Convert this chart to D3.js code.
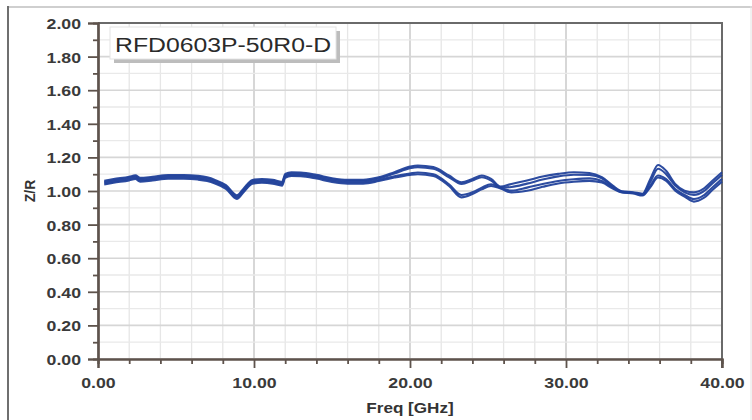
<!DOCTYPE html>
<html><head><meta charset="utf-8">
<script src="https://cdn.jsdelivr.net/npm/d3@7"></script>
<style>
html,body{margin:0;padding:0;background:#fff;}
svg{display:block;}
text{font-family:"Liberation Sans",Arial,sans-serif;}
</style></head>
<body>
<svg id="chart" width="752" height="420"></svg>
<script>
const chartTitle = "RFD0603P-50R0-D";
const xLabel = "Freq [GHz]";
const yLabel = "Z/R";
const xTickValues = [0, 10, 20, 30, 40];
const yTickValues = [0, 0.2, 0.4, 0.6, 0.8, 1.0, 1.2, 1.4, 1.6, 1.8, 2.0];

const freq = [0.4, 1, 2, 2.4, 2.7, 3.5, 4.5, 5.5, 6.4, 7, 7.5, 8.2, 8.9, 9.3, 9.9, 10.5, 11.2, 11.8, 12.0, 12.4,
  13, 14, 15, 16, 17, 18, 19, 20, 20.5, 21.5, 22.5, 23.3, 24, 24.6, 25.2, 25.8, 26.5, 27.5, 28.5, 29.5,
  30.5, 31.5, 32.3, 33, 33.6, 34.3, 34.9, 35.4, 35.9, 36.4, 37, 37.6, 38.2, 38.8, 39.4, 40];

const trace1 = [1.061, 1.071, 1.085, 1.093, 1.078, 1.085, 1.095, 1.095, 1.090, 1.081, 1.066, 1.035, 0.975, 1.011, 1.066, 1.071, 1.066, 1.054, 1.101, 1.111,
  1.110, 1.096, 1.076, 1.066, 1.066, 1.081, 1.112, 1.145, 1.152, 1.142, 1.092, 1.052, 1.072, 1.092, 1.072, 1.026, 1.042, 1.062, 1.086, 1.102,
  1.112, 1.107, 1.082, 1.032, 0.998, 0.993, 0.984, 1.070, 1.155, 1.122, 1.042, 1.002, 0.992, 1.012, 1.062, 1.112];
const trace2 = [1.054, 1.064, 1.078, 1.086, 1.071, 1.078, 1.088, 1.088, 1.083, 1.074, 1.059, 1.028, 0.968, 1.004, 1.059, 1.064, 1.059, 1.047, 1.094, 1.104,
  1.103, 1.089, 1.069, 1.059, 1.059, 1.074, 1.104, 1.136, 1.142, 1.132, 1.082, 1.042, 1.062, 1.082, 1.062, 1.021, 1.024, 1.044, 1.068, 1.087,
  1.097, 1.096, 1.076, 1.026, 0.995, 0.990, 0.980, 1.052, 1.132, 1.102, 1.032, 0.992, 0.977, 0.997, 1.047, 1.096];
const trace3 = [1.046, 1.056, 1.070, 1.078, 1.063, 1.070, 1.080, 1.080, 1.075, 1.066, 1.051, 1.020, 0.960, 0.996, 1.051, 1.056, 1.051, 1.039, 1.086, 1.096,
  1.095, 1.081, 1.061, 1.051, 1.051, 1.066, 1.088, 1.104, 1.110, 1.100, 1.040, 0.976, 0.992, 1.020, 1.040, 1.018, 1.002, 1.020, 1.042, 1.060,
  1.070, 1.075, 1.060, 1.020, 0.993, 0.988, 0.976, 1.032, 1.092, 1.072, 1.012, 0.977, 0.952, 0.972, 1.022, 1.072];
const trace4 = [1.039, 1.049, 1.063, 1.071, 1.056, 1.063, 1.073, 1.073, 1.068, 1.059, 1.044, 1.013, 0.953, 0.989, 1.044, 1.049, 1.044, 1.032, 1.079, 1.089,
  1.088, 1.074, 1.054, 1.044, 1.044, 1.059, 1.080, 1.096, 1.100, 1.090, 1.030, 0.962, 0.982, 1.010, 1.030, 1.015, 0.992, 1.002, 1.025, 1.045,
  1.055, 1.060, 1.050, 1.015, 0.991, 0.986, 0.973, 1.022, 1.080, 1.062, 1.002, 0.967, 0.937, 0.957, 1.007, 1.056];
const traces = [trace1, trace2, trace3, trace4];

const svg = d3.select("#chart");
const L = 98, R = 722, T = 23, B = 359;
const SX = 1.18; // horizontal stretch of text in the original picture

const x = d3.scaleLinear().domain([0, 40]).range([L, R]);
const y = d3.scaleLinear().domain([0, 2]).range([B, T]);

// outer frame
svg.append("line").attr("x1", 8).attr("x2", 752).attr("y1", 7).attr("y2", 7).attr("stroke", "#cfcfcf").attr("stroke-width", 2);
svg.append("line").attr("x1", 8).attr("x2", 8).attr("y1", 6).attr("y2", 420).attr("stroke", "#6f6f6f").attr("stroke-width", 2);
svg.append("line").attr("x1", 751).attr("x2", 751).attr("y1", 6).attr("y2", 420).attr("stroke", "#e2e2e2").attr("stroke-width", 1);

// grid
const g = svg.append("g");
d3.range(0, 40.01, 2).forEach(v => {
  const major = Math.abs(v % 10) < 1e-9;
  g.append("line").attr("x1", x(v)).attr("x2", x(v)).attr("y1", T).attr("y2", B)
    .attr("stroke", major ? "#cdcdcd" : "#e6e6e6").attr("stroke-width", major ? 1.6 : 1.3);
});
d3.range(0, 2.001, 0.1).forEach((v, i) => {
  const major = i % 2 === 0;
  g.append("line").attr("x1", L).attr("x2", R).attr("y1", y(v)).attr("y2", y(v))
    .attr("stroke", major ? "#d6d6d6" : "#e9e9e9").attr("stroke-width", major ? 1.6 : 1.3);
});

// frame top/right
svg.append("line").attr("x1", L).attr("x2", R + 1).attr("y1", T).attr("y2", T).attr("stroke", "#6a6a6a").attr("stroke-width", 2);
svg.append("line").attr("x1", R).attr("x2", R).attr("y1", T).attr("y2", B + 9).attr("stroke", "#6a6a6a").attr("stroke-width", 2);

// axes
const axisColor = "#5e534c";
const yMinor = svg.append("g").attr("transform", `translate(${L},0)`)
  .call(d3.axisLeft(y).tickValues(d3.range(0.1, 2, 0.2)).tickSize(5).tickFormat(""));
const yAx = svg.append("g").attr("transform", `translate(${L},0)`)
  .call(d3.axisLeft(y).tickValues(yTickValues).tickSize(10).tickFormat(d3.format(".2f")));
const xMinor = svg.append("g").attr("transform", `translate(0,${B})`)
  .call(d3.axisBottom(x).tickValues(d3.range(2, 40, 2).filter(v => v % 10 !== 0)).tickSize(5).tickFormat(""));
const xAx = svg.append("g").attr("transform", `translate(0,${B})`)
  .call(d3.axisBottom(x).tickValues(xTickValues).tickSize(9).tickFormat(d3.format(".2f")));

[yMinor, yAx, xMinor, xAx].forEach(a => {
  a.select(".domain").attr("stroke", axisColor).attr("stroke-width", 2.2);
  a.selectAll(".tick line").attr("stroke", axisColor).attr("stroke-width", 1.8);
});
yAx.selectAll(".tick text")
  .attr("x", -17 / SX).attr("dy", "0.36em")
  .attr("transform", `scale(${SX},1)`)
  .attr("font-size", 15).attr("font-weight", "bold").attr("fill", "#3a3a3a");
xAx.selectAll(".tick text")
  .attr("y", 0).attr("dy", 0)
  .attr("transform", `translate(0,29) scale(${SX},1)`)
  .attr("font-size", 15).attr("font-weight", "bold").attr("fill", "#3a3a3a");

// axis titles
svg.append("text").attr("transform", `translate(410,413) scale(${SX},1)`)
  .attr("text-anchor", "middle").attr("font-size", 14.5).attr("font-weight", "bold").attr("fill", "#333")
  .text(xLabel);
svg.append("text").attr("transform", "translate(35,191) rotate(-90)")
  .attr("text-anchor", "middle").attr("font-size", 14).attr("font-weight", "bold").attr("fill", "#333")
  .text(yLabel);

// traces
const line = d3.line().x((d, i) => x(freq[i])).y(d => y(d)).curve(d3.curveMonotoneX);
svg.append("g").selectAll("path").data(traces).join("path")
  .attr("d", d => line(d.slice(0, freq.length)))
  .attr("fill", "none").attr("stroke", "#22429b").attr("stroke-width", 2.1)
  .attr("stroke-linejoin", "round").attr("stroke-opacity", 0.95);

// title box
svg.append("rect").attr("x", 114).attr("y", 31).attr("width", 226).attr("height", 32).attr("fill", "#bdbdbd");
svg.append("rect").attr("x", 110).attr("y", 27).attr("width", 226).attr("height", 32)
  .attr("fill", "#fff").attr("stroke", "#e4e4e4").attr("stroke-width", 1);
svg.append("text").attr("transform", `translate(115,51.5) scale(${SX},1)`)
  .attr("font-size", 21).attr("fill", "#2a2a2a").text(chartTitle);
</script>
</body></html>
